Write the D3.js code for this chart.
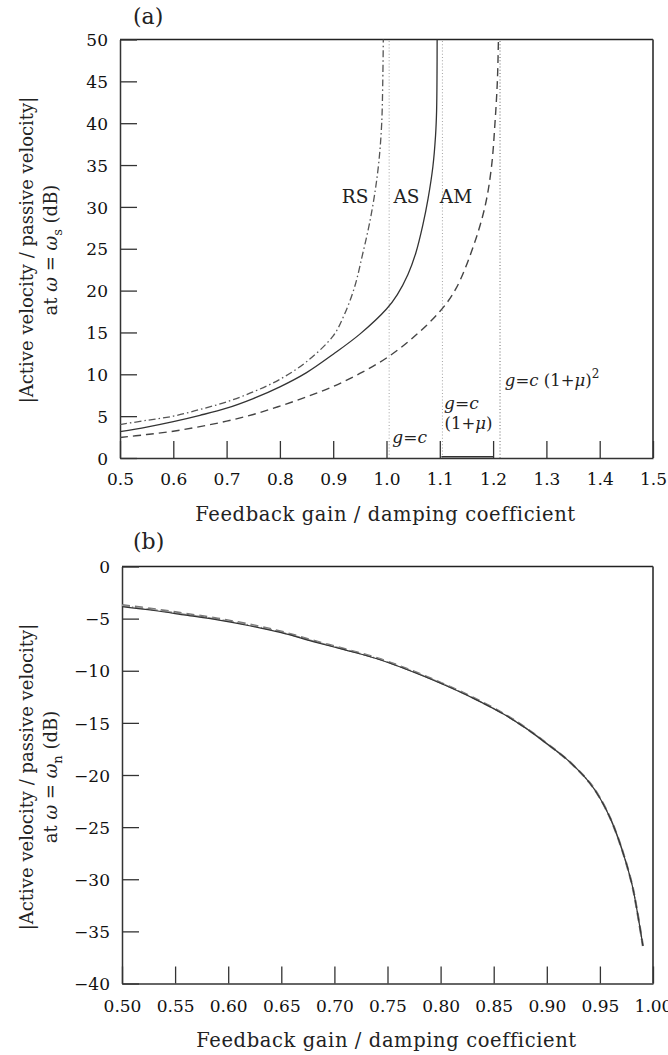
<!DOCTYPE html>
<html><head><meta charset="utf-8">
<script src="https://cdn.jsdelivr.net/npm/d3@7"></script>
<style>body{margin:0;background:#fff}svg{display:block}</style>
</head><body>
<svg id="c" width="668" height="1055"></svg>
<script>
// ---------- data: panel (a) ----------
const rsA = [[0.5,4.0],[0.55,4.5],[0.6,5.0],[0.65,5.8],[0.7,6.7],[0.75,7.9],[0.8,9.4],[0.85,11.5],[0.9,14.6],[0.92,17.0],[0.94,20.4],[0.955,24.3],[0.968,28.0],[0.978,31.6],[0.986,35.6],[0.991,40],[0.993,45],[0.994,50]];
const asA = [[0.5,3.15],[0.55,3.7],[0.6,4.35],[0.65,5.1],[0.7,5.95],[0.75,7.1],[0.8,8.5],[0.85,10.2],[0.9,12.4],[0.95,14.8],[1.0,17.8],[1.02,19.5],[1.04,21.9],[1.055,24.5],[1.068,27.8],[1.078,31.0],[1.087,34.8],[1.092,38.5],[1.094,41.5],[1.0948,46],[1.095,50]];
const amA = [[0.5,2.45],[0.55,2.8],[0.6,3.2],[0.65,3.75],[0.7,4.4],[0.75,5.2],[0.8,6.2],[0.85,7.3],[0.9,8.55],[0.95,10.1],[1.0,11.95],[1.05,14.4],[1.1,17.5],[1.13,20.2],[1.163,25.3],[1.185,30.1],[1.197,34.8],[1.2035,40],[1.208,45],[1.21,50]];
const asTailA = [[1.103,0.15],[1.2,0.15]];
const limitLines = [1.005, 1.105, 1.213];
const xTicksA = [0.5,0.6,0.7,0.8,0.9,1.0,1.1,1.2,1.3,1.4,1.5];
const xTickLabelsA = ["0.5","0.6","0.7","0.8","0.9","1.0","1.1","1.2","1.3","1.4","1.5"];
const yTicksA = [0,5,10,15,20,25,30,35,40,45,50];
const yTickLabelsA = ["0","5","10","15","20","25","30","35","40","45","50"];

// ---------- data: panel (b) ----------
const asB = [[0.5,-3.85],[0.53,-4.22],[0.56,-4.67],[0.59,-5.12],[0.62,-5.68],[0.65,-6.35],[0.68,-7.2],[0.71,-8.0],[0.74,-8.85],[0.77,-9.95],[0.8,-11.2],[0.83,-12.6],[0.86,-14.2],[0.88,-15.5],[0.9,-17.0],[0.92,-18.6],[0.94,-20.7],[0.95,-22.2],[0.96,-24.2],[0.97,-26.9],[0.98,-30.4],[0.985,-33.0],[0.9905,-36.4]];
const amB = [[0.5,-3.7],[0.53,-4.08],[0.56,-4.53],[0.59,-4.99],[0.62,-5.56],[0.65,-6.24],[0.68,-7.1],[0.71,-7.92],[0.74,-8.78],[0.77,-9.88],[0.8,-11.14],[0.83,-12.55],[0.86,-14.16],[0.88,-15.47],[0.9,-16.98],[0.92,-18.6],[0.94,-20.7],[0.95,-22.2],[0.96,-24.2],[0.97,-26.9],[0.98,-30.4],[0.985,-33.0],[0.9905,-36.4]];
const rsB = [[0.5,-3.78],[0.53,-4.15],[0.56,-4.6],[0.59,-5.06],[0.62,-5.62],[0.65,-6.3],[0.68,-7.15],[0.71,-7.96],[0.74,-8.82],[0.77,-9.92],[0.8,-11.17],[0.83,-12.58],[0.86,-14.18],[0.88,-15.48],[0.9,-16.99],[0.92,-18.6],[0.94,-20.7],[0.95,-22.2],[0.96,-24.2],[0.97,-26.9],[0.98,-30.4],[0.985,-33.0],[0.9905,-36.4]];
const xTicksB = [0.5,0.55,0.6,0.65,0.7,0.75,0.8,0.85,0.9,0.95,1.0];
const xTickLabelsB = ["0.50","0.55","0.60","0.65","0.70","0.75","0.80","0.85","0.90","0.95","1.00"];
const yTicksB = [-40,-35,-30,-25,-20,-15,-10,-5,0];
const yTickLabelsB = ["\u221240","\u221235","\u221230","\u221225","\u221220","\u221215","\u221210","\u22125","0"];

const svg = d3.select("#c");
const FONT = "'DejaVu Serif', serif";
const TICKFS = 17;

function panel(cfg){
  const {x, y, xTicks, xLabels, yTicks, yLabels, xLabelBase, tickBase} = cfg;
  const g = svg.append("g");
  const [x0,x1] = x.range(), [y0,y1] = y.range();
  g.append("line").attr("x1",x0).attr("x2",x1).attr("y1",y1).attr("y2",y1).attr("stroke","#222").attr("stroke-width",1.4);
  g.append("line").attr("x1",x1).attr("x2",x1).attr("y1",y1).attr("y2",y0).attr("stroke","#444").attr("stroke-width",1.8);
  const ax = g.append("g").attr("transform",`translate(0,${y0})`)
    .call(d3.axisBottom(x).tickValues(xTicks).tickSize(-17).tickSizeOuter(0).tickFormat((d,i)=>xLabels[i]));
  ax.select(".domain").attr("stroke","#333").attr("stroke-width",1.5);
  ax.selectAll(".tick line").attr("stroke","#333").attr("stroke-width",1.3);
  ax.selectAll(".tick text").attr("y", tickBase - y0).attr("dy",0).attr("fill","#111")
    .style("font-family",FONT).style("font-size",TICKFS+"px");
  const ay = g.append("g").attr("transform",`translate(${x0},0)`)
    .call(d3.axisLeft(y).tickValues(yTicks).tickSize(-17).tickSizeOuter(0).tickFormat((d,i)=>yLabels[i]));
  ay.select(".domain").attr("stroke","#333").attr("stroke-width",1.5);
  ay.selectAll(".tick line").attr("stroke","#333").attr("stroke-width",1.3);
  ay.selectAll(".tick text").attr("x",-12).attr("dy","0.36em").attr("fill","#111")
    .style("font-family",FONT).style("font-size",TICKFS+"px");
  g.append("text").attr("x",(x0+x1)/2 - 1).attr("y",xLabelBase).attr("text-anchor","middle")
    .attr("fill","#222").style("font-family",FONT).style("font-size","19.5px").style("letter-spacing","0.6px")
    .text("Feedback gain / damping coefficient");
  return g;
}

function ylabel(cy, sub){
  svg.append("text").attr("transform",`translate(33,${cy}) rotate(-90)`).attr("text-anchor","middle")
    .attr("fill","#222").style("font-family",FONT).style("font-size","18px")
    .text("|Active velocity / passive velocity|");
  const t2 = svg.append("text").attr("transform",`translate(57,${cy}) rotate(-90)`).attr("text-anchor","middle")
    .attr("fill","#222").style("font-family",FONT).style("font-size","18px");
  t2.append("tspan").text("at ");
  t2.append("tspan").style("font-style","italic").text("\u03c9");
  t2.append("tspan").text(" = ");
  t2.append("tspan").style("font-style","italic").text("\u03c9");
  t2.append("tspan").attr("dy",5).style("font-size","13px").text(sub);
  t2.append("tspan").attr("dy",-5).text(" (dB)");
}

// ---------- panel (a) ----------
const xA = d3.scaleLinear().domain([0.5,1.5]).range([120,653]);
const yA = d3.scaleLinear().domain([0,50]).range([458,39.5]);
const gA = panel({x:xA,y:yA,xTicks:xTicksA,xLabels:xTickLabelsA,yTicks:yTicksA,yLabels:yTickLabelsA,xLabelBase:521,tickBase:485});

gA.selectAll(".lim").data(limitLines).join("line")
  .attr("x1",d=>xA(d)).attr("x2",d=>xA(d)).attr("y1",yA(0)).attr("y2",yA(50))
  .attr("stroke",(d,i)=>i===2?"#777":"#aaa").attr("stroke-width",1.1).attr("stroke-dasharray","1,2.2");

const lineA = d3.line().x(d=>xA(d[0])).y(d=>yA(d[1])).curve(d3.curveCatmullRom.alpha(0.5));
gA.append("path").datum(rsA).attr("d",lineA).attr("fill","none").attr("stroke","#555").attr("stroke-width",1.3).attr("stroke-dasharray","7,3,1.5,3");
gA.append("path").datum(asA).attr("d",lineA).attr("fill","none").attr("stroke","#333").attr("stroke-width",1.3);
gA.append("path").datum(amA).attr("d",lineA).attr("fill","none").attr("stroke","#444").attr("stroke-width",1.4).attr("stroke-dasharray","8,5");
gA.append("path").datum(asTailA).attr("d",d3.line().x(d=>xA(d[0])).y(d=>yA(d[1]))).attr("fill","none").attr("stroke","#333").attr("stroke-width",1.5);

const lblStyle = s => s.attr("fill","#222").style("font-family",FONT);
lblStyle(gA.append("text").attr("x",xA(0.916)).attr("y",yA(30.5)).style("font-size","18.5px").text("RS"));
lblStyle(gA.append("text").attr("x",xA(1.013)).attr("y",yA(30.5)).style("font-size","18.5px").text("AS"));
lblStyle(gA.append("text").attr("x",xA(1.100)).attr("y",yA(30.5)).style("font-size","18.5px").text("AM"));

function gc(t){ t.append("tspan").style("font-style","italic").text("g"); t.append("tspan").text("="); t.append("tspan").style("font-style","italic").text("c"); }
let t;
t = lblStyle(gA.append("text").attr("x",xA(1.011)).attr("y",yA(1.8)).style("font-size","17px")); gc(t);
t = lblStyle(gA.append("text").attr("x",xA(1.108)).attr("y",yA(5.85)).style("font-size","17px")); gc(t);
t = lblStyle(gA.append("text").attr("x",xA(1.109)).attr("y",yA(3.45)).style("font-size","16.5px"));
t.append("tspan").text("(1+"); t.append("tspan").style("font-style","italic").text("\u03bc"); t.append("tspan").text(")");
t = lblStyle(gA.append("text").attr("x",xA(1.222)).attr("y",yA(8.6)).style("font-size","16.5px")); gc(t);
t.append("tspan").text(" (1+"); t.append("tspan").style("font-style","italic").text("\u03bc"); t.append("tspan").text(")");
t.append("tspan").attr("dy",-8).style("font-size","12px").text("2");

lblStyle(svg.append("text").attr("x",133).attr("y",24).style("font-size","22px").text("(a)"));
ylabel(250, "s");

// ---------- panel (b) ----------
const xB = d3.scaleLinear().domain([0.5,1.0]).range([122,653]);
const yB = d3.scaleLinear().domain([-40,0]).range([983.5,566.5]);
const gB = panel({x:xB,y:yB,xTicks:xTicksB,xLabels:xTickLabelsB,yTicks:yTicksB,yLabels:yTickLabelsB,xLabelBase:1047,tickBase:1012});
const lineB = d3.line().x(d=>xB(d[0])).y(d=>yB(d[1])).curve(d3.curveCatmullRom.alpha(0.5));
gB.append("path").datum(amB).attr("d",lineB).attr("fill","none").attr("stroke","#777").attr("stroke-width",2.2).attr("stroke-dasharray","8,5");
gB.append("path").datum(rsB).attr("d",lineB).attr("fill","none").attr("stroke","#999").attr("stroke-width",1.6).attr("stroke-dasharray","7,3,1.5,3");
gB.append("path").datum(asB).attr("d",lineB).attr("fill","none").attr("stroke","#333").attr("stroke-width",1.2);

lblStyle(svg.append("text").attr("x",133).attr("y",549).style("font-size","22px").text("(b)"));
ylabel(777, "n");
</script>
</body></html>
